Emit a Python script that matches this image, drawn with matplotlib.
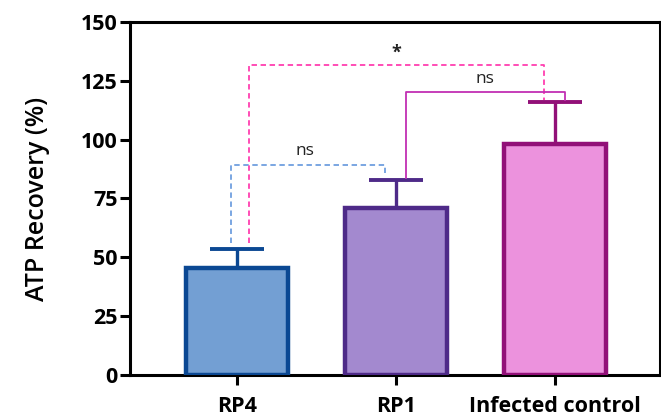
import matplotlib
matplotlib.use("Agg")
import matplotlib.pyplot as plt

categories = ["RP4", "RP1", "Infected control"]
means = [45.5, 70.8, 98.3]
upper_err = [8.0, 12.0, 17.7]
fill_colors = ["#739fd3", "#a389cf", "#ec92dd"]
edge_colors = ["#0b4893", "#4e2a88", "#921078"]

# comparison brackets: (x_left, x_right, y_bar, y_left_end, y_right_end, label, label_x, color, style)
brackets = [
    (-0.04, 0.93, 89.4, 56.2, 85.8, "ns", 0.43, "#6f9fdf", (0, (3, 2))),
    (0.075, 1.93, 131.6, 56.2, 116.8, "*", 1.0, "#ff3fb0", (0, (3, 2))),
    (1.063, 2.063, 120.0, 83.8, 116.8, "ns", 1.56, "#c22fb3", "-"),
]

plt.rcParams["font.family"] = ["Open Sans", "DejaVu Sans"]

fig = plt.figure(figsize=(6.61, 4.2), dpi=100)
ax = fig.add_axes([0.197, 0.107, 0.801, 0.841])

x = list(range(len(categories)))
for i in x:
    ax.errorbar(i, means[i], yerr=[[0], [upper_err[i]]], fmt="none",
                ecolor=edge_colors[i], elinewidth=2.4, capsize=19.5,
                capthick=2.8, zorder=2)
    ax.bar(i, means[i], width=0.64, color=fill_colors[i],
           edgecolor=edge_colors[i], linewidth=3.2, zorder=3)

for xl, xr, yb, yl, yr, lab, lx, col, ls in brackets:
    ax.plot([xl, xl, xr, xr], [yl, yb, yb, yr], color=col, lw=1.3,
            linestyle=ls, zorder=4)
    if lab == "ns":
        ax.text(lx, yb + 2.5, lab, ha="center", va="bottom",
                fontsize=12.5, color="#222222")
    else:
        ax.text(lx, yb + 1.5, lab, ha="center", va="bottom",
                fontsize=13, fontweight="bold", color="#222222")

ax.set_xlim(-0.673, 2.66)
ax.set_ylim(0, 150)
ax.set_yticks([0, 25, 50, 75, 100, 125, 150])
ax.set_xticks(x)
ax.set_xticklabels(categories)
for lab in ax.get_xticklabels() + ax.get_yticklabels():
    lab.set_fontweight("bold")
    lab.set_fontsize(15.5)
ax.tick_params(axis="both", width=2.2, length=7, color="black")
ax.tick_params(axis="x", pad=8)
ax.tick_params(axis="y", pad=2)
for s in ax.spines.values():
    s.set_linewidth(2.2)
ax.set_ylabel("ATP Recovery (%)", fontsize=18, fontweight="semibold",
              labelpad=22)

fig.savefig("out.png", dpi=100)
